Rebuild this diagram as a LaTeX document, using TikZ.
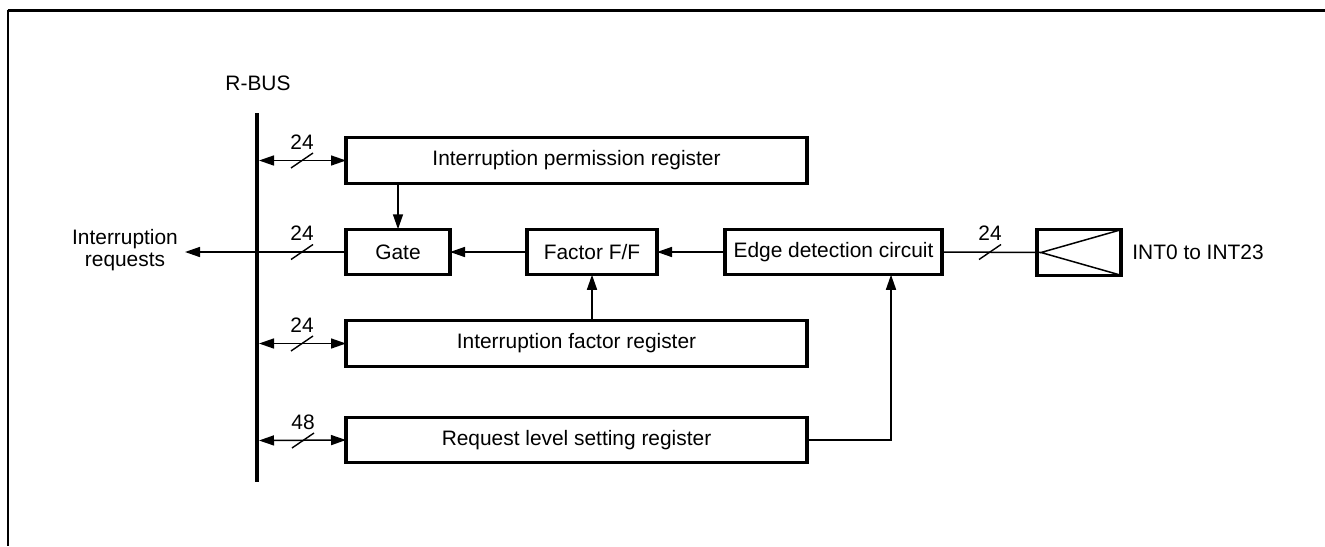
\documentclass[tikz,border=0pt]{standalone}
\usepackage{fontspec}
\setmainfont{Liberation Sans}
\usetikzlibrary{arrows.meta}
\begin{document}
\begin{tikzpicture}[x=0.5pt,y=-0.5pt,
  font=\fontsize{10.45}{12.5}\selectfont,
  box/.style={draw,line width=1.6pt,inner sep=0pt,outer sep=0pt,minimum height=22.75pt},
  wire/.style={line width=0.75pt},
  arr/.style={wire,-{Triangle[length=7.5pt,width=5pt]}},
  barr/.style={wire,{Triangle[length=7.5pt,width=5pt]}-{Triangle[length=7.5pt,width=5pt]}},
  slash/.style={line width=0.7pt},
  lbl/.style={inner sep=0pt}]
\useasboundingbox (0,0) rectangle (1325,546);
% frame
\draw[line width=1.5pt] (7.5,10) -- (1325,10);
\draw[line width=1pt] (8,9.5) -- (8,546);
% bus
\coordinate (busT) at (257,113);
\coordinate (busB) at (257,482);
\draw[line width=2.4pt] (busT) -- (busB);
\node[lbl] (rbus) at (258,83) {R-BUS};
% boxes
\node[box,minimum width=230.5pt] (perm) at (576.5,160.5) {Interruption permission register};
\node[box,minimum width=52pt] (gate) at (398,252) {Gate};
\node[box,minimum width=65pt] (ff) at (592,252) {Factor F/F};
\node[box,minimum width=108.5pt] (edge) at (833.5,252) {Edge detection circuit};
\node[box,minimum width=42pt] (inp) at (1079,252.5) {};
\node[box,minimum width=230.5pt] (fac) at (576.5,343.5) {Interruption factor register};
\node[box,minimum width=230.5pt] (req) at (576.5,440) {Request level setting register};
\node[lbl,anchor=west] (intl) at (1132,252) {INT0 to INT23};
\node[lbl,align=center] (irql) at (125,250) {Interruption\\[-1.5pt]requests};
% input triangle
\draw[wire] (inp.north east) -- ([xshift=2]inp.west) -- (inp.south east);
% bus connectors
\coordinate (b1) at (259,160.5);
\coordinate (b3) at (259,343.5);
\coordinate (b4) at (259,440.5);
\draw[barr] (b1) -- (perm.west);
\draw[barr] (b3) -- (fac.west);
\draw[barr] (b4) -- (req.west);
\coordinate (irq) at (185,252);
\draw[arr] (gate.west) -- (irq);
% internal connectors
\draw[arr] (gate.north |- perm.south) -- (gate.north);
\draw[arr] (ff.west) -- (gate.east);
\draw[arr] (edge.west) -- (ff.east);
\draw[arr] (ff.south |- fac.north) -- (ff.south);
\draw[wire] (edge.east) -- ([xshift=2]inp.west);
\coordinate (k) at (891,440);
\draw[arr] (req.east) -- (k) -- (k |- edge.south);
% bus width slashes and labels
\foreach \x/\y/\t/\n in {302/160.5/24/sa, 302/252/24/sb, 302/343.5/24/sc, 303/440.5/48/sd, 990/252/24/se}{
  \draw[slash] (\x,\y) ++(-11,7.5) -- ++(22,-15);
  \node[lbl] (\n) at (\x,\y-18.5) {\t};
}
\end{tikzpicture}
\end{document}
